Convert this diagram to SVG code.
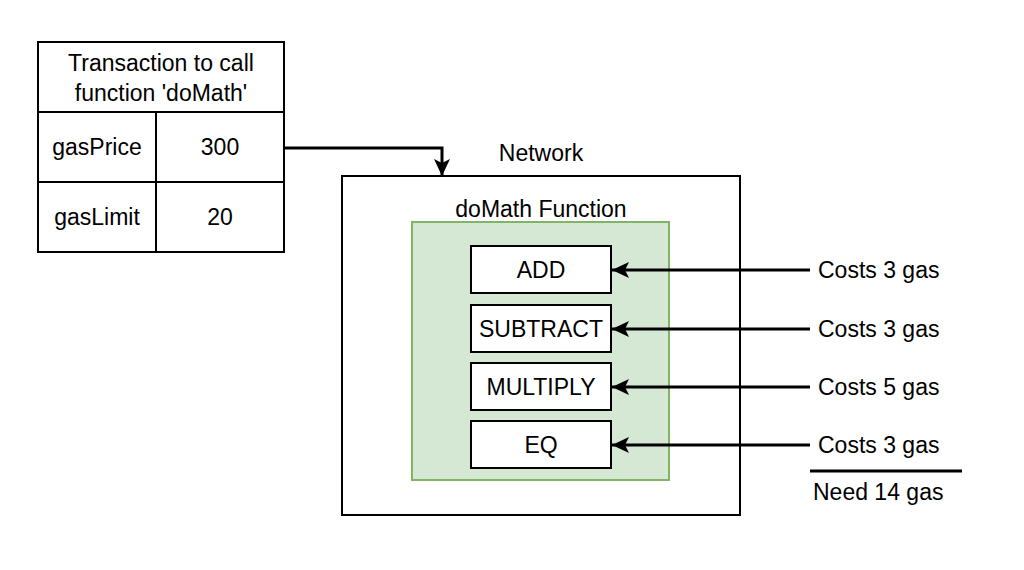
<svg xmlns="http://www.w3.org/2000/svg" width="1024" height="570" viewBox="0 0 1024 570">
<style>
text{font-family:"Liberation Sans",Arial,sans-serif;font-size:23px;fill:#000;text-anchor:middle}
.l{text-anchor:start}
.box{fill:#fff;stroke:#000;stroke-width:2}
.conn{fill:none;stroke:#000;stroke-width:3}
</style>
<defs>
<marker id="arr" markerUnits="userSpaceOnUse" markerWidth="20" markerHeight="20" viewBox="0 0 20 20" refX="18" refY="10" orient="auto">
<path d="M1,2 L18,10 L1,18 L5,10 Z" fill="#000"/>
</marker>
</defs>
<rect width="1024" height="570" fill="#fff"/>
<g id="transaction">
<rect class="box" x="38" y="42" width="246" height="210"/>
<line x1="38" y1="112" x2="284" y2="112" stroke="#000" stroke-width="2"/>
<line x1="38" y1="182" x2="284" y2="182" stroke="#000" stroke-width="2"/>
<line x1="156" y1="112" x2="156" y2="252" stroke="#000" stroke-width="2"/>
<text x="161" y="71">Transaction to call</text>
<text x="161" y="101">function 'doMath'</text>
<text x="97" y="155">gasPrice</text>
<text x="220" y="155">300</text>
<text x="97" y="225">gasLimit</text>
<text x="220" y="225">20</text>
</g>
<g id="network">
<rect class="box" x="342" y="176" width="398" height="339"/>
<text x="541" y="161">Network</text>
</g>
<g id="domath">
<rect x="412" y="222" width="257" height="258" fill="#d5e8d4" stroke="#82b366" stroke-width="2"/>
<text x="541" y="217">doMath Function</text>
</g>
<g id="add"><rect class="box" x="471" y="246" width="140" height="47"/><text x="541" y="278">ADD</text></g>
<g id="subtract"><rect class="box" x="471" y="305" width="140" height="47"/><text x="541" y="337">SUBTRACT</text></g>
<g id="multiply"><rect class="box" x="471" y="363" width="140" height="47"/><text x="541" y="395">MULTIPLY</text></g>
<g id="eq"><rect class="box" x="471" y="421" width="140" height="47"/><text x="541" y="453">EQ</text></g>
<g id="costs">
<text class="l" x="818" y="278">Costs 3 gas</text>
<text class="l" x="818" y="337">Costs 3 gas</text>
<text class="l" x="818" y="395">Costs 5 gas</text>
<text class="l" x="818" y="453">Costs 3 gas</text>
<line x1="810" y1="471" x2="962" y2="471" stroke="#000" stroke-width="3"/>
<text class="l" x="813" y="500">Need 14 gas</text>
</g>
<g id="connectors">
<path class="conn" d="M284,148 H442 V176" marker-end="url(#arr)"/>
<path class="conn" d="M810,270 H612" marker-end="url(#arr)"/>
<path class="conn" d="M810,329 H612" marker-end="url(#arr)"/>
<path class="conn" d="M810,387 H612" marker-end="url(#arr)"/>
<path class="conn" d="M810,445 H612" marker-end="url(#arr)"/>
</g>
</svg>
